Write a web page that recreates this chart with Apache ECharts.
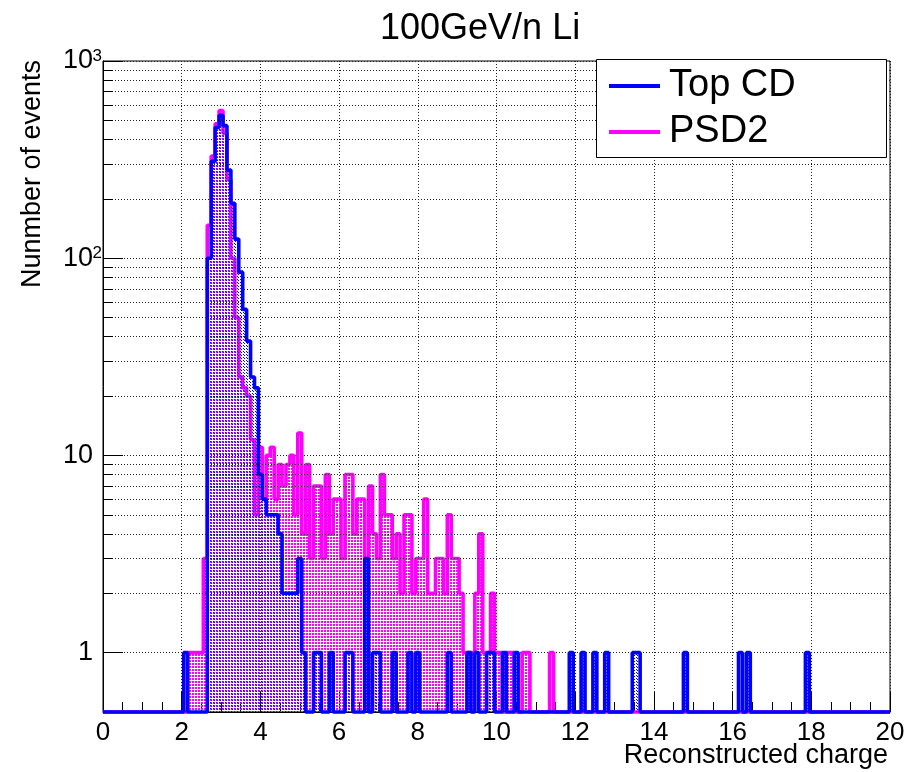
<!DOCTYPE html>
<html><head><meta charset="utf-8">
<script src="https://cdn.jsdelivr.net/npm/echarts@6/dist/echarts.min.js"></script>
<style>html,body{margin:0;padding:0;background:#fff}#c{width:911px;height:772px}</style>
</head><body><div id="c"></div>
<script>
// ---- data ----
const xMin = 0, xMax = 20, binWidth = 0.1;
const firstBinCenter = 2.0;          // centre of the first listed bin (bins listed every 0.1)
const yMin = 0.5, yMax = 1000;
const xTickValues = [0, 2, 4, 6, 8, 10, 12, 14, 16, 18, 20];
const yDecades = [1, 10, 100, 1000];
const yMinorGrid = [2,3,4,5,6,7,8,9,20,30,40,50,60,70,80,90,200,300,400,500,600,700,800,900];

// Top CD counts, bins centred at 2.0, 2.1, 2.2, ...
const topCD = [
  0, 1, 0, 0, 0, 0, 0, 100, 310, 460,     // 2.0 - 2.9
  530, 470, 280, 190, 125, 85, 55, 38, 25, 22, // 3.0 - 3.9
  8, 6, 5, 5, 5, 4, 2, 2, 2, 2,            // 4.0 - 4.9
  3, 1, 0, 0, 1, 1, 0, 0, 1, 0,            // 5.0 - 5.9
  0, 0, 1, 1, 0, 0, 0, 3, 0, 1,            // 6.0 - 6.9
  1, 0, 0, 0, 1, 0, 0, 0, 1, 0,            // 7.0 - 7.9
  1, 0, 0, 0, 0, 0, 0, 0, 1, 0,            // 8.0 - 8.9
  0, 0, 0, 1, 0, 1, 0, 0, 1, 1,            // 9.0 - 9.9
  0, 0, 1, 0, 0, 1, 0, 0, 0, 0,            // 10.0 - 10.9
  0, 0, 0, 0, 0, 0, 0, 0, 0, 1,            // 11.0 - 11.9
  0, 0, 1, 0, 0, 1, 0, 0, 1, 0,            // 12.0 - 12.9
  0, 0, 0, 0, 0, 1, 1, 0, 0, 0,            // 13.0 - 13.9
  0, 0, 0, 0, 0, 0, 0, 0, 1, 0,            // 14.0 - 14.9
  0, 0, 0, 0, 0, 0, 0, 0, 0, 0,            // 15.0 - 15.9
  0, 0, 1, 0, 1, 0, 0, 0, 0, 0,            // 16.0 - 16.9
  0, 0, 0, 0, 0, 0, 0, 0, 0, 1             // 17.0 - 17.9
];
// PSD2 counts, same bins
const psd2 = [
  0, 0, 1, 1, 1, 1, 3, 147, 330, 480,      // 2.0 - 2.9
  560, 430, 250, 100, 50, 25, 22, 20, 12, 5, // 3.0 - 3.9
  11, 6, 10, 11, 6, 9, 7, 9, 10, 5,        // 4.0 - 4.9
  13, 4, 9, 3, 7, 7, 3, 8, 4, 6,           // 5.0 - 5.9
  6, 3, 8, 8, 4, 6, 6, 3, 7, 4,            // 6.0 - 6.9
  3, 8, 5, 5, 3, 4, 2, 5, 5, 2,            // 7.0 - 7.9
  3, 3, 6, 2, 2, 3, 3, 2, 5, 3,            // 8.0 - 8.9
  3, 2, 1, 1, 1, 2, 4, 1, 1, 2,            // 9.0 - 9.9
  1, 1, 0, 1, 1, 0, 0, 1, 1, 0,            // 10.0 - 10.9
  0, 0, 0, 0, 1                            // 11.0 - 11.4
];

// ---- helpers (presentation only) ----
function stepData(counts) {
  const nBins = Math.round((xMax - xMin) / binWidth);
  const pts = [];
  let last = yMin;
  for (let k = 0; k <= nBins; k++) {
    const centre = xMin + k * binWidth;
    const idx = Math.round((centre - firstBinCenter) / binWidth);
    const c = (idx >= 0 && idx < counts.length) ? counts[idx] : 0;
    const v = c > 0 ? c : yMin;
    const left = Math.max(xMin, +(centre - binWidth / 2).toFixed(4));
    pts.push([left, v]);
    last = v;
  }
  pts.push([xMax, last]);
  return pts;
}
function pattern(color, rects, size) {
  const cv = document.createElement('canvas');
  cv.width = size; cv.height = size;
  const g = cv.getContext('2d');
  g.fillStyle = color;
  rects.forEach(([x, y, w, h]) => g.fillRect(x, y, w, h));
  return cv;
}
const FONT = 'Liberation Sans, Arial, Helvetica, sans-serif';
const BLUE = '#0000ff', PINK = '#ff00ff';
const pinkPat = pattern(PINK, [[0, 0, 2, 2]], 3);
const bluePat = pattern(BLUE, [[0, 0, 1, 1], [1, 1, 1, 1]], 3);

const chart = echarts.init(document.getElementById('c'), null, {renderer: 'canvas'});
const dotted = {color: '#222', width: 1, type: [1, 2]};
const minorTickLen = 10 / 39.35; // in x data units (~10px)

chart.setOption({
  animation: false,
  backgroundColor: '#fff',
  title: {
    text: '100GeV/n Li', left: 375, top: 5,
    textStyle: {fontFamily: FONT, fontSize: 36, fontWeight: 'normal', color: '#000', lineHeight: 38}
  },
  grid: {left: 103, right: 21, top: 61, bottom: 60, show: true, borderColor: '#000', borderWidth: 1, backgroundColor: 'transparent'},
  legend: {
    data: ['Top CD', 'PSD2'], orient: 'vertical', left: 604, top: 62,
    itemWidth: 51, itemHeight: 4, itemGap: 8, icon: 'rect',
    textStyle: {fontFamily: FONT, fontSize: 38, color: '#000', padding: [0, 0, 0, 4]},
    z: 10
  },
  xAxis: {
    type: 'value', min: xMin, max: xMax, interval: 2,
    axisLine: {show: true, lineStyle: {color: '#000', width: 1}},
    axisTick: {show: true, inside: true, length: 20, lineStyle: {color: '#000'}},
    minorTick: {show: true, splitNumber: 4, length: 10, lineStyle: {color: '#000'}},
    axisLabel: {fontFamily: FONT, fontSize: 26, color: '#000', margin: 8,
      formatter: v => xTickValues.includes(v) ? String(v) : ''},
    splitLine: {show: true, lineStyle: dotted}
  },
  yAxis: {
    type: 'log', logBase: 10, min: yMin, max: yMax,
    axisLine: {show: true, lineStyle: {color: '#000', width: 1}},
    axisTick: {show: true, inside: true, length: 20, lineStyle: {color: '#000'}},
    axisLabel: {
      margin: 1, color: '#000',
      formatter: v => {
        if (v < 1 || !yDecades.includes(Math.round(v))) return '';
        if (v < 100) return '{n|' + Math.round(v) + '}{g|}';
        return '{n|10}{s|' + Math.round(Math.log10(v)) + '}';
      },
      rich: {
        n: {fontFamily: FONT, fontSize: 27, color: '#000'},
        g: {width: 9},
        s: {fontFamily: FONT, fontSize: 17, color: '#000', verticalAlign: 'top', lineHeight: 12, width: 9}
      }
    },
    splitLine: {show: true, lineStyle: dotted}
  },
  graphic: [
    {type: 'rect', z: 8, shape: {x: 596.5, y: 59.5, width: 290, height: 98},
      style: {fill: '#fff', stroke: '#000', lineWidth: 1}},
    {type: 'text', z: 8, x: 33, y: 60, rotation: Math.PI / 2,
      style: {text: 'Nunmber of events', fontFamily: FONT, fontSize: 27, fill: '#000', align: 'right', verticalAlign: 'middle'}},
    {type: 'text', z: 8, x: 888, y: 756,
      style: {text: 'Reconstructed charge', fontFamily: FONT, fontSize: 27, fill: '#000', align: 'right', verticalAlign: 'middle'}}
  ],
  series: [
    {
      type: 'line', name: 'grid', data: [], silent: true, z: 1,
      markLine: {
        silent: true, symbol: ['none', 'none'], label: {show: false}, animation: false,
        lineStyle: dotted,
        data: yMinorGrid.map(v => ({yAxis: v}))
          .concat(yMinorGrid.map(v => [
            {coord: [xMin, v], lineStyle: {type: 'solid', color: '#000', width: 1}},
            {coord: [xMin + minorTickLen, v]}
          ]))
      }
    },
    {
      type: 'line', name: 'PSD2', data: stepData(psd2), step: 'end', symbol: 'none', showSymbol: false,
      clip: false, z: 3,
      lineStyle: {color: PINK, width: 3.6}, itemStyle: {color: PINK},
      areaStyle: {color: {image: pinkPat, repeat: 'repeat'}, opacity: 1, origin: 'start'}
    },
    {
      type: 'line', name: 'Top CD', data: stepData(topCD), step: 'end', symbol: 'none', showSymbol: false,
      clip: false, z: 4,
      lineStyle: {color: BLUE, width: 3.6}, itemStyle: {color: BLUE},
      areaStyle: {color: {image: bluePat, repeat: 'repeat'}, opacity: 1, origin: 'start'}
    }
  ]
});
</script>
</body></html>
